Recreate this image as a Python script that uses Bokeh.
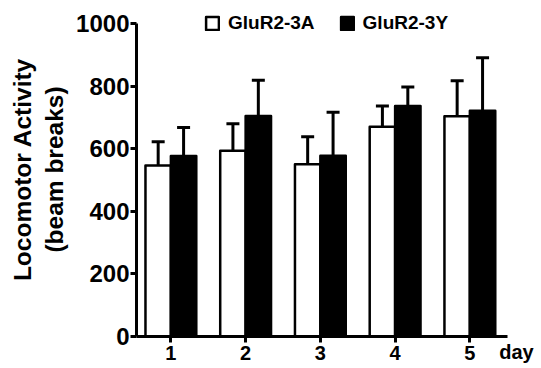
from bokeh.plotting import figure
from bokeh.models import (ColumnDataSource, Range1d, Whisker, TeeHead, Legend,
                          LegendItem, FixedTicker)
from bokeh.transform import dodge
from bokeh.embed import file_html
from bokeh.resources import INLINE

days = [1, 2, 3, 4, 5]
day_labels = ["1", "2", "3", "4", "5"]
mean_3a = [547, 594, 551, 671, 704]
err_3a = [76, 86, 88, 66, 114]
mean_3y = [577, 705, 578, 737, 722]
err_3y = [91, 114, 139, 61, 169]
y_ticks = [0, 200, 400, 600, 800, 1000]
series_names = ["GluR2-3A", "GluR2-3Y"]
offset = 0.17

FONT = "Liberation Sans"

src = ColumnDataSource(dict(
    day=days,
    m3a=mean_3a, u3a=[m + e for m, e in zip(mean_3a, err_3a)],
    m3y=mean_3y, u3y=[m + e for m, e in zip(mean_3y, err_3y)],
))

p = figure(width=541, height=368, output_backend="svg", toolbar_location=None,
           x_range=Range1d(0.54, 5.624), y_range=Range1d(0, 1068),
           min_border_left=136, min_border_right=25, min_border_top=2,
           min_border_bottom=32)
p.outline_line_color = None
p.grid.visible = False
p.background_fill_color = "white"
p.border_fill_color = "white"

r_a = p.vbar(x=dodge("day", -offset), top="m3a", bottom=0, width=2 * offset,
             source=src, fill_color="white", line_color="black",
             line_width=2.5, line_join="round")
r_y = p.vbar(x=dodge("day", offset), top="m3y", bottom=0, width=2 * offset,
             source=src, fill_color="black", line_color="black",
             line_width=2.5, line_join="round")

for m, u, off in (("m3a", "u3a", -offset), ("m3y", "u3y", offset)):
    w = Whisker(source=src, base=dodge("day", off), lower=m, upper=u,
                dimension="height", line_width=3, line_color="black",
                upper_head=TeeHead(size=13, line_width=3, line_color="black"),
                lower_head=None, level="underlay")
    p.add_layout(w)

# axes
p.xaxis.ticker = FixedTicker(ticks=days)
p.xaxis.major_label_overrides = {d: s for d, s in zip(days, day_labels)}
p.xaxis.bounds = (0.54, 5.51)
p.yaxis.ticker = FixedTicker(ticks=y_ticks)
p.yaxis.bounds = (0, 1000)
for ax in (p.xaxis[0], p.yaxis[0]):
    ax.axis_line_width = 3
    ax.major_tick_line_width = 3
    ax.major_tick_in = 0
    ax.major_tick_out = 6
    ax.minor_tick_line_color = None
    ax.major_label_text_font = FONT
    ax.major_label_text_font_style = "bold"
    ax.major_label_text_color = "black"
    ax.axis_line_color = "black"
    ax.major_tick_line_color = "black"
p.xaxis.major_label_text_font_size = "20px"
p.xaxis.major_label_standoff = 3
p.yaxis.major_label_text_font_size = "24px"
p.yaxis.major_label_standoff = 1

p.yaxis.axis_label = "Locomotor Activity\n(beam breaks)"
p.yaxis.axis_label_text_font = FONT
p.yaxis.axis_label_text_font_style = "bold"
p.yaxis.axis_label_text_font_size = "24.5px"
p.yaxis.axis_label_text_color = "black"
p.yaxis.axis_label_standoff = 5

xa = p.xaxis[0]
xa.axis_label = "day"
xa.axis_label_text_font = FONT
xa.axis_label_text_font_style = "bold"
xa.axis_label_text_font_size = "20px"
xa.axis_label_text_color = "black"
xa.axis_label_align = "end"
xa.axis_label_standoff = -22

legend = Legend(items=[LegendItem(label=series_names[0], renderers=[r_a]),
                       LegendItem(label=series_names[1], renderers=[r_y])],
                location=(68, 302), orientation="horizontal",
                padding=0, margin=0, spacing=24, label_standoff=8,
                glyph_width=16, glyph_height=16,
                border_line_color=None, background_fill_alpha=0,
                label_text_font=FONT, label_text_font_style="bold",
                label_text_font_size="19px", label_text_color="black")
p.add_layout(legend, "center")

open("out.html", "w").write(file_html(p, INLINE))
